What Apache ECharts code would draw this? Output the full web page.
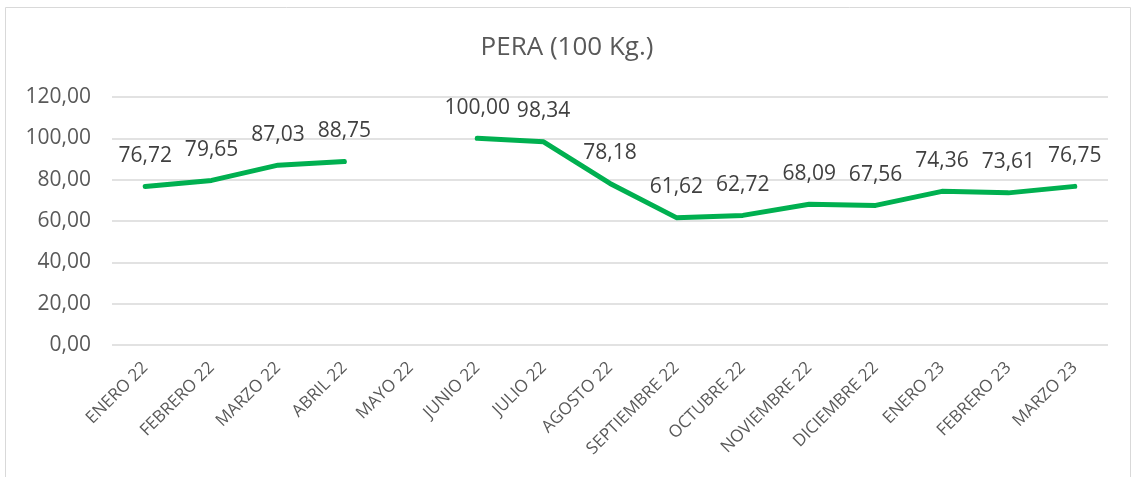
<!DOCTYPE html>
<html>
<head>
<meta charset="utf-8">
<script src="https://cdn.jsdelivr.net/npm/echarts@6/dist/echarts.min.js"></script>
<style>
  html, body { margin: 0; padding: 0; background: #fff; }
  #main { width: 1134px; height: 477px; }
</style>
</head>
<body>
<div id="main"></div>
<script>
// data
const months = ['ENERO 22', 'FEBRERO 22', 'MARZO 22', 'ABRIL 22', 'MAYO 22', 'JUNIO 22', 'JULIO 22',
  'AGOSTO 22', 'SEPTIEMBRE 22', 'OCTUBRE 22', 'NOVIEMBRE 22', 'DICIEMBRE 22', 'ENERO 23', 'FEBRERO 23', 'MARZO 23'];
const prices = [76.72, 79.65, 87.03, 88.75, null, 100.00, 98.34, 78.18, 61.62, 62.72, 68.09, 67.56, 74.36, 73.61, 76.75];
const yTicks = [0, 20, 40, 60, 80, 100, 120];

const fmt = (v) => v.toFixed(2).replace('.', ',');

const chart = echarts.init(document.getElementById('main'));

chart.setOption({
  animation: false,
  textStyle: { fontFamily: 'Open Sans' },
  graphic: [{
    type: 'rect',
    shape: { x: 5.5, y: 7.5, width: 1125, height: 480 },
    style: { fill: 'none', stroke: '#d9d9d9', lineWidth: 1 },
    silent: true
  }],
  title: {
    text: 'PERA (100 Kg.)',
    left: 'center',
    top: 30,
    textStyle: { fontSize: 26, fontWeight: 'normal', color: '#595959', fontFamily: 'Open Sans' }
  },
  grid: { left: 112, right: 26, top: 97, bottom: 132, containLabel: false },
  xAxis: {
    type: 'category',
    data: months,
    boundaryGap: true,
    axisLine: { show: false },
    axisTick: { show: false },
    axisLabel: {
      rotate: 45,
      interval: 0,
      margin: 20,
      fontSize: 17,
      color: '#595959',
      fontFamily: 'Open Sans'
    }
  },
  yAxis: {
    type: 'value',
    min: yTicks[0],
    max: yTicks[yTicks.length - 1],
    interval: 20,
    axisLine: { show: false },
    axisTick: { show: false },
    splitLine: { lineStyle: { color: '#d9d9d9', width: 1.5 } },
    axisLabel: {
      fontSize: 21,
      color: '#595959',
      margin: 21,
      fontFamily: 'Open Sans',
      formatter: (v) => fmt(v)
    }
  },
  series: [{
    type: 'line',
    data: prices,
    connectNulls: false,
    showSymbol: true,
    symbol: 'circle',
    symbolSize: 2,
    itemStyle: { color: 'rgba(0,0,0,0)', borderWidth: 0 },
    lineStyle: { color: '#00b050', width: 5, cap: 'round', join: 'round' },
    label: {
      show: true,
      position: 'top',
      distance: 19,
      fontSize: 21,
      color: '#404040',
      fontFamily: 'Open Sans',
      formatter: (p) => fmt(p.value)
    }
  }]
});
</script>
</body>
</html>
